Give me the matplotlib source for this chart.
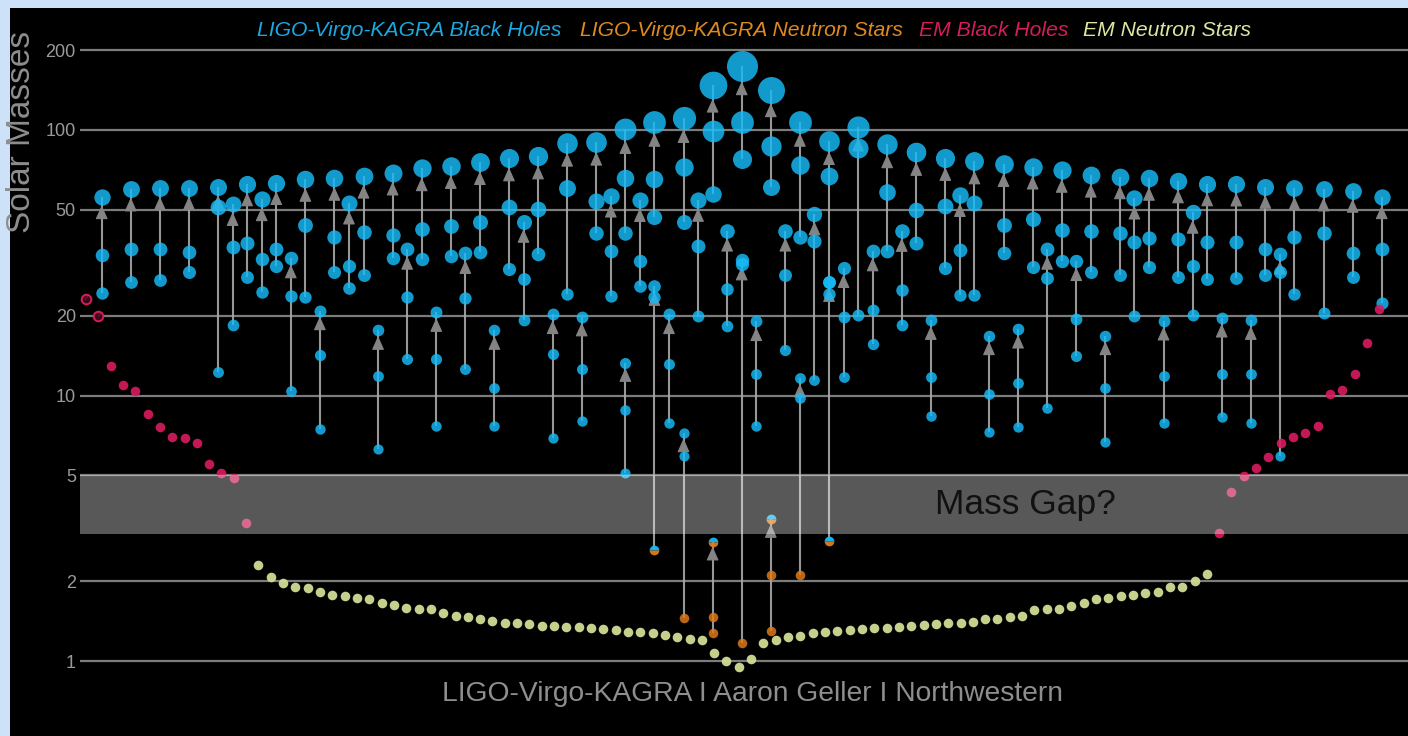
import numpy as np
import matplotlib
matplotlib.use("Agg")
import matplotlib.pyplot as plt
from matplotlib.patches import Rectangle

plt.rcParams['font.family'] = ['Liberation Sans', 'DejaVu Sans']

# ---- gravitational-wave mergers: slot along the x axis, remnant and component masses
gw_slot = [0, 2, 4, 6, 8, 9, 10, 11, 12, 13, 14, 15, 16, 17, 18, 19, 20, 21, 22, 23,
           24, 25, 26, 27, 28, 29, 30, 31, 32, 33, 34, 35, 36, 36, 37, 38, 38, 39, 40, 40,
           41, 42, 42, 43, 44, 44, 45, 46, 46, 47, 48, 48, 49, 50, 50, 51, 52, 53, 54, 55,
           56, 57, 58, 59, 60, 61, 62, 63, 64, 65, 66, 67, 68, 69, 70, 71, 72, 73, 74, 75,
           76, 77, 78, 79, 80, 81, 82, 84, 86, 88]
gw_final = [55.8, 59.8, 60.3, 60.5, 61.2, 52.5, 62.6, 54.8, 63.3, 33.0, 65.2, 20.9, 65.8, 53.2,
            67.1, 17.6, 69.0, 35.6, 71.7, 20.6, 73.2, 34.3, 75.8, 17.6, 78.4, 45.2, 79.8, 20.2,
            89.6, 19.8, 90.4, 56.6, 100.6, 13.3, 54.4, 107.5, 25.9, 20.2, 111.3, 7.2, 54.5,
            147.7, 2.81, 41.8, 174.2, 32.4, 19.0, 141.5, 3.42, 41.8, 107.5, 11.6, 48.3, 90.9,
            26.8, 30.3, 102.9, 35.1, 88.3, 41.7, 82.4, 19.2, 78.7, 56.9, 76.3, 16.8, 74.5, 17.8,
            72.8, 35.6, 70.7, 32.2, 67.7, 16.8, 66.7, 55.6, 65.8, 19.1, 64.3, 49.0, 62.6, 19.6,
            62.5, 19.2, 61.2, 34.1, 60.3, 59.8, 59.1, 55.8]
gw_m1 = [33.8, 35.5, 35.6, 34.6, 51.4, 36.2, 37.6, 32.7, 35.6, 23.8, 43.9, 14.2, 39.5, 30.7,
         41.4, 11.8, 40.1, 23.4, 42.4, 13.7, 43.5, 23.2, 45.2, 10.7, 51.4, 27.4, 50.4, 14.3,
         60.3, 12.6, 54.2, 35.1, 65.8, 8.8, 32.0, 65.2, 23.4, 13.1, 72.3, 5.9, 36.7,
         99.4, 1.46, 25.1, 107.5, 31.2, 12.1, 87.1, 2.10, 28.4, 73.8, 9.76, 38.2, 67.1,
         24.2, 19.8, 85.3, 21.0, 58.3, 25.0, 49.8, 11.7, 51.9, 35.2, 53.0, 10.1, 43.9, 11.1,
         46.2, 27.8, 42.0, 19.4, 41.8, 10.7, 41.0, 38.0, 39.1, 11.8, 38.9, 30.8, 37.8, 12.1,
         37.8, 12.1, 35.5, 29.1, 39.4, 41.1, 34.3, 35.6]
gw_m2 = [24.3, 26.8, 27.2, 29.1, 12.3, 18.4, 27.9, 24.6, 30.7, 10.4, 23.4, 7.5, 29.1, 25.3,
         28.4, 6.3, 32.9, 13.7, 32.7, 7.7, 33.5, 12.6, 34.7, 7.7, 30.0, 19.2, 34.2, 6.9,
         24.1, 8.0, 40.8, 23.8, 41.0, 5.1, 25.9, 47.2, 2.62, 7.9, 45.2, 1.45, 20.0,
         57.4, 1.27, 18.3, 77.5, 1.17, 7.7, 61.2, 1.30, 14.8, 39.6, 2.10, 11.4, 26.8,
         2.84, 11.7, 20.1, 15.6, 35.1, 18.5, 37.4, 8.4, 30.3, 24.0, 24.0, 7.3, 34.3, 7.6,
         30.5, 9.0, 32.2, 14.1, 29.1, 6.7, 28.4, 20.0, 30.4, 7.9, 28.0, 20.1, 27.5, 8.3,
         27.6, 7.9, 28.4, 5.9, 24.1, 20.4, 27.9, 22.4]

# ---- electromagnetically observed compact objects, in plotting order
em_bh_left = [23.1, 20.0, 12.9, 10.95, 10.4, 8.5, 7.6, 7.0, 6.9, 6.6, 5.5, 5.1, 4.9, 3.3]
em_ns = [2.30, 2.08, 1.96, 1.905, 1.88, 1.82, 1.77, 1.76, 1.73, 1.71, 1.66, 1.62, 1.58, 1.57,
         1.57, 1.52, 1.48, 1.47, 1.44, 1.41, 1.39, 1.39, 1.38, 1.36, 1.35, 1.34, 1.34, 1.335,
         1.32, 1.305, 1.29, 1.285, 1.27, 1.25, 1.235, 1.21, 1.20, 1.075, 1.00, 0.947, 1.02,
         1.17, 1.20, 1.23, 1.24, 1.275, 1.29, 1.30, 1.31, 1.32, 1.33, 1.335, 1.34, 1.35,
         1.37, 1.38, 1.39, 1.39, 1.40, 1.44, 1.44, 1.47, 1.48, 1.56, 1.57, 1.57, 1.61, 1.65,
         1.71, 1.73, 1.75, 1.77, 1.81, 1.82, 1.90, 1.905, 2.01, 2.12]
em_bh_right = [3.04, 4.32, 4.99, 5.32, 5.88, 6.6, 6.96, 7.2, 7.7, 10.1, 10.5, 12.0, 15.7, 21.2]
em_uncertain = [0, 1]   # left-hand objects drawn with a question mark

ytick_vals = [1, 2, 5, 10, 20, 50, 100, 200]
legend_labels = ["LIGO-Virgo-KAGRA Black Holes", "LIGO-Virgo-KAGRA Neutron Stars",
                 "EM Black Holes", "EM Neutron Stars"]
gap_range = (3, 5)

# ---- colours
BLUE = '#18bbf7'
ORANGE = '#e07c1c'
PINK = '#d81b60'
PALE = '#d2dd95'
GRID = '#7c7c7c'
SHAFT = '#a9a9a9'
HEAD = '#848484'
TXT = '#8e8e8e'

W, H, DPI = 1408, 736, 100
fig = plt.figure(figsize=(W / DPI, H / DPI), dpi=DPI)
fig.patch.set_facecolor('#cde1f8')
fig.patches.append(Rectangle((10 / W, 0), 1 - 10 / W, (H - 8) / H, transform=fig.transFigure,
                             facecolor='black', edgecolor='none', zorder=-10))

ax = fig.add_axes([80 / W, 0, 1 - 80 / W, (H - 8) / H])
ax.set_zorder(1)
ax.set_facecolor('black')
ax.set_yscale('log')
# pixel rows 8..736 of the frame; 265.5 px per decade, 1 Msun at row 661
ax.set_ylim(10 ** ((661 - 736) / 265.5), 10 ** ((661 - 8) / 265.5))
ax.set_xlim(80, 1408)
for s in ax.spines.values():
    s.set_visible(False)
ax.set_xticks([])
ax.set_yticks(ytick_vals)
ax.set_yticklabels([str(v) for v in ytick_vals])
ax.yaxis.set_minor_locator(matplotlib.ticker.NullLocator())
ax.tick_params(axis='y', length=0, pad=3, labelsize=13, labelcolor='#9a9a9a')
for v in ytick_vals:
    ax.axhline(v, color=GRID, lw=1.6, zorder=1)


def r_px(m):
    return 4.7 + 0.062 * np.asarray(m, dtype=float)


def s_pt2(r):
    return (2 * r * 72 / DPI) ** 2


def kind(m):
    if m < 2.5:
        return 'ns'
    if m < 3.5:
        return 'mix'
    return 'bh'


gx = 101.7 + (1381.7 - 101.7) / 88 * np.asarray(gw_slot, dtype=float)

# connecting shafts and arrow heads
for x, f, a, b in zip(gx, gw_final, gw_m1, gw_m2):
    lo = min(a, b)
    ax.plot([x, x], [lo, f], color=SHAFT, lw=1.5, alpha=0.9, zorder=2,
            solid_capstyle='butt')
    rp = float(r_px(f)) * 72 / DPI
    ax.annotate('', xy=(x, f), xytext=(0, -(rp + 8.5)), textcoords='offset points',
                arrowprops=dict(arrowstyle='-|>,head_length=0.85,head_width=0.38',
                                mutation_scale=10, shrinkA=0, shrinkB=rp,
                                color=HEAD, lw=0.8), zorder=3)

# the mass dots
for x, f, a, b in zip(gx, gw_final, gw_m1, gw_m2):
    for m in (f, a, b):
        k = kind(m)
        r = float(r_px(m))
        if k == 'mix':
            ax.plot([x], [m], 'o', ms=2 * r * 72 / DPI, fillstyle='top',
                    markerfacecolor=BLUE, markerfacecoloralt=ORANGE, mew=0,
                    alpha=0.95, zorder=4)
        else:
            ax.scatter([x], [m], s=s_pt2(r), color=BLUE if k == 'bh' else ORANGE,
                       alpha=0.83, lw=0, zorder=4)

# EM objects
em_all = em_bh_left + em_ns + em_bh_right
ex = np.linspace(86, 1379.3, len(em_all))
nl, nn = len(em_bh_left), len(em_ns)
r_em = 4.8
ax.scatter(ex[:nl], em_bh_left, s=s_pt2(r_em), color=PINK, alpha=0.9, lw=0, zorder=4,
           clip_on=False)
ax.scatter(ex[nl:nl + nn], em_ns, s=s_pt2(r_em), color=PALE, alpha=0.95, lw=0, zorder=4)
ax.scatter(ex[nl + nn:], em_bh_right, s=s_pt2(r_em), color=PINK, alpha=0.9, lw=0, zorder=4)
for i in em_uncertain:
    ax.scatter([ex[i]], [em_bh_left[i]], s=s_pt2(r_em), facecolor='#3a0716',
               edgecolor=PINK, lw=1.4, zorder=5, clip_on=False)
    ax.text(ex[i], em_bh_left[i], '?', color=PINK, fontsize=5, ha='center',
            va='center', zorder=6)

# the mass-gap band, a translucent veil over everything it covers
ax.axhspan(gap_range[0], gap_range[1], color='white', alpha=0.35, lw=0, zorder=7)
ax.text(935, 3.9, 'Mass Gap?', fontsize=25.5, color='#111111', ha='left',
        va='center', zorder=8)

# legend line
leg_x = [257, 580, 919, 1083]
leg_c = ['#1aa9e2', '#df8a20', '#d41c5e', '#dfe6a2']
for lx, lab, c in zip(leg_x, legend_labels, leg_c):
    fig.text(lx / W, 1 - 30 / H, lab, color=c, fontsize=15.2, style='italic',
             ha='left', va='center')

fig.text(22 / W, 1 - 132 / H, 'Solar Masses', rotation=90, fontsize=24, color=TXT,
         ha='center', va='center')
fig.text(753 / W, 1 - 694 / H, 'LIGO-Virgo-KAGRA I Aaron Geller I Northwestern',
         fontsize=20.3, color=TXT, ha='center', va='center')

fig.savefig('out.png', dpi=DPI, facecolor=fig.get_facecolor())
